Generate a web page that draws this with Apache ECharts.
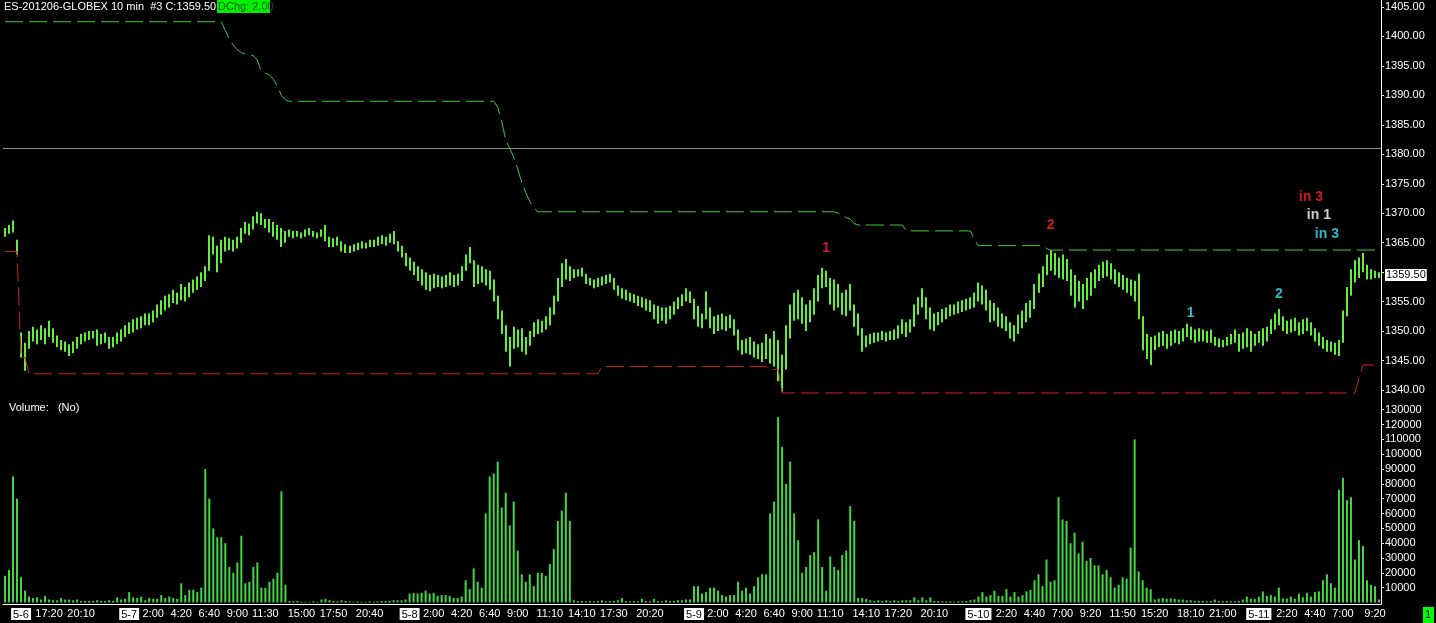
<!DOCTYPE html>
<html><head><meta charset="utf-8">
<script src="https://cdn.jsdelivr.net/npm/echarts@6/dist/echarts.min.js"></script>
<style>html,body{margin:0;padding:0;background:#000;}#c{width:1436px;height:623px;}</style>
</head><body><div id="c"></div>
<script>
// 20-minute bars (each drawn bar summarises two 10-min bars of the reference)
const highs=[1367.5,1368.0,1368.75,1365.5,1349.75,1348.0,1350.0,1350.75,1350.25,1351.0,1350.5,1351.75,1350.5,1349.25,1348.5,1348.25,1347.75,1348.25,1349.0,1349.5,
1349.75,1350.0,1350.0,1350.25,1349.5,1349.75,1349.0,1349.0,1349.75,1350.25,1351.0,1351.5,1352.0,1352.25,1352.5,1353.0,1353.0,1353.5,1354.5,1355.25,
1356.0,1356.25,1357.0,1356.5,1358.0,1357.5,1358.25,1358.75,1359.25,1360.0,1361.0,1366.25,1366.0,1364.5,1365.5,1366.0,1365.75,1365.5,1366.0,1367.5,
1368.5,1368.25,1369.5,1370.25,1370.0,1369.0,1369.0,1368.5,1368.0,1367.5,1367.0,1367.25,1367.0,1367.0,1366.75,1367.25,1367.5,1367.0,1366.75,1367.25,
1368.0,1366.0,1365.75,1366.0,1365.25,1364.75,1364.5,1364.75,1365.0,1365.25,1365.0,1365.5,1365.5,1366.0,1366.25,1366.0,1366.5,1367.0,1365.25,1364.5,
1363.25,1362.5,1361.75,1361.0,1360.5,1360.0,1359.5,1359.75,1359.5,1359.25,1359.5,1360.0,1359.5,1359.75,1361.0,1363.0,1364.25,1362.0,1361.25,1361.0,
1360.5,1360.25,1358.75,1356.0,1353.5,1351.0,1349.0,1350.75,1350.25,1350.5,1349.0,1350.0,1351.5,1352.0,1351.75,1352.5,1354.0,1356.0,1359.0,1361.5,
1362.25,1361.0,1360.5,1360.5,1360.75,1359.75,1359.0,1358.75,1359.0,1359.25,1359.5,1359.75,1359.0,1357.75,1357.25,1357.0,1356.5,1356.25,1356.0,1355.75,
1355.5,1355.25,1354.5,1354.25,1354.0,1354.0,1354.25,1355.0,1355.75,1356.25,1357.25,1356.75,1355.5,1354.25,1353.0,1356.75,1354.0,1352.5,1352.75,1353.0,
1352.5,1352.75,1352.0,1350.25,1348.5,1348.75,1349.0,1348.25,1347.75,1348.0,1349.5,1348.75,1350.0,1348.5,1346.0,1351.0,1354.5,1356.5,1357.0,1355.75,
1354.5,1355.25,1357.25,1359.5,1360.75,1360.25,1359.0,1358.75,1358.0,1356.5,1357.0,1358.0,1354.5,1353.0,1350.5,1349.25,1349.5,1349.75,1349.75,1350.0,
1349.75,1350.0,1350.25,1351.0,1352.0,1351.5,1352.0,1354.5,1355.75,1357.25,1355.75,1354.0,1353.0,1353.25,1353.75,1354.0,1354.5,1354.5,1355.0,1355.25,
1355.5,1355.75,1356.5,1358.25,1357.75,1357.0,1355.25,1354.75,1354.0,1353.0,1352.5,1351.5,1351.0,1352.75,1353.5,1354.75,1355.25,1358.0,1359.75,1361.0,
1363.0,1363.75,1363.25,1362.5,1363.0,1362.25,1360.5,1359.5,1358.5,1358.0,1359.0,1360.0,1360.5,1361.25,1361.75,1362.0,1361.5,1360.5,1360.0,1359.5,
1359.0,1358.75,1358.5,1359.75,1352.5,1349.5,1349.0,1349.25,1349.75,1350.0,1349.5,1350.0,1350.25,1350.0,1350.5,1351.25,1350.75,1350.25,1350.5,1350.25,
1350.0,1350.25,1349.0,1348.75,1348.5,1349.0,1349.5,1350.25,1349.5,1349.75,1350.5,1350.0,1349.5,1350.0,1350.5,1350.75,1352.0,1353.0,1353.75,1352.5,
1351.75,1352.0,1352.25,1351.5,1352.0,1352.25,1351.5,1350.5,1349.75,1349.0,1348.5,1348.25,1348.0,1348.5,1353.5,1357.5,1360.5,1362.0,1362.5,1363.25,
1361.25,1360.5,1360.25,1360.0];
const lows=[1366.0,1366.5,1366.75,1363.0,1345.5,1343.25,1347.0,1348.25,1347.75,1348.5,1347.75,1349.0,1348.0,1347.25,1346.75,1346.5,1345.75,1346.25,1347.0,1347.75,
1348.25,1348.5,1348.75,1347.5,1347.75,1348.0,1347.0,1347.25,1347.75,1348.25,1349.0,1349.5,1349.75,1350.25,1350.5,1351.0,1351.0,1351.5,1352.25,1352.75,
1353.5,1354.0,1354.75,1354.5,1355.25,1355.0,1355.75,1356.5,1357.0,1357.5,1358.5,1360.25,1363.0,1360.0,1361.5,1363.5,1363.75,1363.5,1364.0,1365.0,
1366.5,1366.25,1367.25,1368.25,1368.0,1367.5,1366.75,1366.0,1365.5,1364.25,1365.0,1366.0,1365.75,1366.0,1365.75,1366.0,1366.25,1366.0,1365.75,1366.0,
1365.25,1364.25,1364.25,1364.5,1363.5,1363.25,1363.25,1363.5,1363.75,1364.0,1364.0,1364.25,1364.25,1364.5,1364.75,1364.5,1365.0,1364.75,1363.5,1362.5,
1361.0,1360.25,1359.5,1358.5,1357.75,1357.0,1356.75,1357.25,1357.5,1357.25,1357.5,1357.75,1357.5,1357.75,1358.5,1360.25,1361.5,1357.5,1358.0,1358.25,
1357.75,1357.0,1355.0,1352.0,1349.5,1346.5,1344.0,1347.0,1347.25,1346.5,1346.0,1347.5,1349.0,1349.5,1349.75,1350.25,1351.0,1352.75,1355.0,1357.5,
1358.75,1358.5,1359.0,1359.25,1359.25,1358.0,1357.75,1357.25,1357.5,1357.75,1358.0,1358.25,1357.0,1356.0,1355.5,1355.25,1355.0,1354.75,1354.25,1354.0,
1353.5,1353.25,1352.0,1351.25,1351.75,1351.25,1352.0,1352.75,1353.75,1354.25,1355.0,1354.75,1352.0,1350.75,1350.5,1352.0,1350.5,1349.5,1350.0,1350.25,
1350.0,1350.5,1349.25,1346.75,1346.0,1346.25,1346.0,1345.5,1345.25,1344.75,1345.25,1344.5,1344.0,1341.5,1339.75,1343.5,1348.75,1351.75,1352.0,1351.25,
1350.0,1351.5,1352.75,1355.0,1357.25,1357.5,1354.5,1353.5,1354.0,1352.75,1352.5,1353.5,1350.75,1349.25,1346.5,1347.25,1347.75,1348.0,1348.25,1348.5,
1348.25,1348.5,1348.5,1348.75,1349.5,1349.0,1349.75,1350.75,1352.75,1354.0,1352.0,1350.25,1350.0,1351.0,1351.5,1352.0,1352.5,1352.75,1353.0,1353.25,
1353.5,1353.75,1354.0,1355.0,1354.5,1353.5,1351.5,1351.75,1350.75,1350.5,1350.0,1348.75,1348.25,1349.5,1350.5,1351.5,1352.25,1353.75,1356.5,1357.5,
1359.5,1360.25,1359.5,1359.0,1358.75,1358.5,1356.0,1354.0,1355.0,1353.75,1355.25,1356.0,1357.25,1358.5,1359.0,1359.25,1358.75,1358.0,1357.5,1357.0,
1356.5,1356.0,1355.0,1352.0,1346.75,1345.25,1344.25,1346.75,1347.25,1347.5,1347.0,1347.5,1348.0,1347.75,1348.25,1349.0,1348.5,1348.0,1348.25,1348.25,
1348.0,1348.0,1347.5,1347.25,1347.25,1347.5,1347.75,1348.0,1346.5,1347.0,1347.25,1346.5,1347.5,1348.0,1347.5,1348.25,1349.5,1350.25,1351.0,1350.0,
1349.5,1349.75,1350.0,1349.25,1349.5,1350.0,1349.25,1348.25,1347.5,1347.0,1346.5,1346.5,1346.0,1345.75,1348.0,1352.5,1356.0,1358.25,1359.0,1360.0,
1358.75,1358.75,1359.0,1359.0];
const volumes=[18000,22000,85000,70000,17000,8000,4000,3000,3500,2000,4500,2000,1500,1500,3000,2000,2000,1500,2000,1000,
1000,1000,1000,1500,1000,1000,1500,1000,3500,2000,2500,7000,3500,3000,4000,1500,3000,2500,2500,5000,
3000,4000,3000,2500,13000,5000,8500,8500,7000,10000,90000,70000,50000,44000,44000,40000,24000,20000,27000,45000,
13000,14000,24000,27000,10000,10000,14000,16000,20000,75000,12000,1000,800,1000,500,500,500,800,500,2000,
2500,1500,1000,800,1500,1000,800,500,800,500,500,800,500,800,1000,1000,1000,1500,1500,1500,
2000,6000,6500,6000,6500,8000,6000,6500,4500,5000,5000,4500,3000,3000,4000,15000,9000,23000,14000,10000,
60000,85000,87000,95000,64000,74000,52000,68000,35000,19000,14000,19000,11000,20000,20000,18000,26000,36000,55000,62000,
74000,55000,1500,1000,1000,800,1000,800,1000,1500,800,1000,1000,1500,3000,1000,800,1000,800,2500,
1000,800,2500,1000,800,1500,1000,1000,1500,1500,2000,2000,11000,11000,6000,7000,10000,10000,8000,5000,
4000,5000,5000,14000,8000,10000,6000,11000,17000,19000,19000,60000,68000,125000,105000,80000,95000,60000,42000,20000,
24000,32000,34000,56000,24000,8000,31000,24000,22000,32000,35000,65000,55000,3000,3000,2500,1500,1000,1500,1000,
1500,1000,1500,1000,1500,1500,1500,3500,1500,3500,1500,3500,1000,1000,800,800,800,500,800,800,
1000,1500,2000,4000,7000,4000,5000,8000,4500,4500,9000,4000,7000,4000,5000,7500,8500,15000,19000,11000,
29000,14000,15000,71000,56000,55000,40000,47000,33000,41000,28000,30000,25000,25000,19000,22000,17000,10000,12000,17000,
16000,37000,110000,21000,15000,10000,9000,2000,2500,3000,2500,2700,2500,2000,2000,1500,1500,1000,1000,1000,
800,1000,2000,1000,800,1000,800,800,1000,2000,4000,2500,2300,4000,7500,4500,5000,4000,10000,2700,
2700,4000,2500,6000,3500,6500,4000,7000,7500,15000,19000,13000,10000,76000,84000,69000,71000,29000,42000,38000,
15000,12000,11000,2000];
// stop levels as [bar index, price] break points
const upperStop=[[0,1402.5],[54,1402.5],[55,1401],[56,1399.5],[57,1398.5],[58,1397.75],[59,1397.25],[60,1397],[62,1396.75],[63,1396],[64,1394],[65,1393.75],[66,1393.5],[67,1392.75],[68,1391.5],[69,1390],[70,1389.25],[71,1389],[122,1389],[123,1388],[124,1385.5],[125,1382.5],[126,1381],[127,1379.5],[128,1377.5],[129,1375.25],[130,1373.5],[131,1372],[132,1371],[133,1370.25],[207,1370.25],[208,1370],[209,1369.5],[210,1369.25],[211,1369],[212,1368.25],[213,1368],[224,1368],[225,1367],[241,1367],[242,1365.5],[243,1364.5],[259,1364.5],[260,1364],[261,1363.75],[343,1363.75]];
const lowerStop=[[0,1363.5],[3,1363.5],[4,1345.5],[5,1345.5],[6,1342.75],[148,1342.75],[149,1344],[190,1344],[191,1343.5],[193,1343.5],[194,1339.5],[337,1339.5],[338,1342],[339,1344.25],[343,1344.25]];
const refLevel=1381;
const lastClose=1359.5;
const priceTicks=[1340,1345,1350,1355,1360,1365,1370,1375,1380,1385,1390,1395,1400,1405];
const volumeTicks=[10000,20000,30000,40000,50000,60000,70000,80000,90000,100000,110000,120000,130000];
const timeLabels=[[4,'5-6',1],[11,'17:20'],[19,'20:10'],[31,'5-7',1],[37,'2:00'],[44,'4:20'],[51,'6:40'],[58,'9:00'],[65,'11:30'],[74,'15:00'],[82,'17:50'],[91,'20:40'],
[101,'5-8',1],[107,'2:00'],[114,'4:20'],[121,'6:40'],[128,'9:00'],[136,'11:10'],[144,'14:10'],[152,'17:30'],[161,'20:20'],
[172,'5-9',1],[178,'2:00'],[185,'4:20'],[192,'6:40'],[199,'9:00'],[206,'11:10'],[215,'14:10'],[223,'17:20'],[232,'20:10'],
[243,'5-10',1],[250,'2:20'],[257,'4:40'],[264,'7:00'],[271,'9:20'],[279,'11:50'],[287,'15:20'],[296,'18:10'],[304,'21:00'],
[313,'5-11',1],[320,'2:20'],[327,'4:40'],[334,'7:00'],[342,'9:20']];
const annotations=[
 {text:'1',idx:205,price:1364.0,color:'#ff2424'},
 {text:'2',idx:261,price:1367.9,color:'#ff2424'},
 {text:'1',idx:296,price:1353.1,color:'#3fe2f2'},
 {text:'2',idx:318,price:1356.2,color:'#3fe2f2'},
 {text:'in 3',idx:326,price:1372.8,color:'#ff2424'},
 {text:'in 1',idx:328,price:1369.75,color:'#ffffff'},
 {text:'in 3',idx:330,price:1366.5,color:'#3fe2f2'}
];

const FONT='"Liberation Sans", Arial, sans-serif';
const PRICE_COLOR='#62ee3c';
const VOL_COLOR='#42d842';
const cats=highs.map((_,i)=>String(i));
const labelMap={};
timeLabels.forEach(t=>{labelMap[t[0]]={t:t[1],d:!!t[2]};});
// the last-price box on the axis hides the tick label it covers
const priceLabelValues=priceTicks.filter(v=>Math.abs(v-lastClose)>2);

const chart=echarts.init(document.getElementById('c'),null,{renderer:'canvas',width:1436,height:623});
const option={
 backgroundColor:'#000',
 animation:false,
 grid:[{left:3,right:55,top:0,height:400},{left:3,right:55,top:400,height:204}],
 xAxis:[
  {type:'category',gridIndex:0,data:cats,show:false},
  {type:'category',gridIndex:1,data:cats,
   axisLine:{show:true,onZero:false,lineStyle:{color:'#ffffff',width:1}},
   axisTick:{show:false},
   axisLabel:{interval:0,margin:4,color:'#ffffff',fontSize:11,fontFamily:FONT,
    formatter:function(v,i){const l=labelMap[i];if(!l)return '';return l.d?'{d|'+l.t+'}':l.t;},
    rich:{d:{backgroundColor:'#ffffff',color:'#000000',padding:[1,2,0,2],fontSize:11,fontFamily:FONT}}}}
 ],
 yAxis:[
  {type:'value',gridIndex:0,position:'right',min:1338.303,max:1406.188,scale:true,
   splitLine:{show:false},
   axisLine:{show:true,lineStyle:{color:'#ffffff'}},
   axisTick:{show:true,length:3,customValues:priceTicks,lineStyle:{color:'#ffffff'}},
   axisLabel:{customValues:priceLabelValues,formatter:v=>Number(v).toFixed(2),color:'#ffffff',fontSize:11,fontFamily:FONT,margin:4}},
  {type:'value',gridIndex:1,position:'right',min:-1011,max:136547,
   splitLine:{show:false},
   axisLine:{show:true,lineStyle:{color:'#ffffff'}},
   axisTick:{show:true,length:3,customValues:volumeTicks,lineStyle:{color:'#ffffff'}},
   axisLabel:{customValues:volumeTicks,formatter:v=>String(Math.round(v)),color:'#ffffff',fontSize:11,fontFamily:FONT,margin:4}}
 ],
 series:[
  {type:'line',xAxisIndex:0,yAxisIndex:0,data:upperStop,symbol:'none',clip:false,silent:true,
   lineStyle:{color:'#3ccc3c',width:1,type:[18,6]},
   markLine:{silent:true,symbol:'none',label:{show:false},lineStyle:{color:'#8a8f8a',type:'solid',width:1},data:[{yAxis:refLevel}]}},
  {type:'line',xAxisIndex:0,yAxisIndex:0,data:lowerStop,symbol:'none',clip:false,silent:true,
   lineStyle:{color:'#cc2020',width:1,type:[18,6]}},
  {type:'custom',xAxisIndex:0,yAxisIndex:0,clip:false,silent:true,
   data:highs.map((h,i)=>[i,lows[i],h]),
   encode:{x:0,y:[1,2]},
   renderItem:function(params,api){
     const lo=api.coord([api.value(0),api.value(1)]);
     const hi=api.coord([api.value(0),api.value(2)]);
     return {type:'rect',shape:{x:Math.round(lo[0])-1,y:hi[1],width:2,height:Math.max(1,lo[1]-hi[1])},style:{fill:PRICE_COLOR}};
   }},
  {type:'scatter',xAxisIndex:0,yAxisIndex:0,symbolSize:0,silent:true,clip:false,
   data:annotations.map(a=>({value:[a.idx,a.price],name:a.text,label:{color:a.color}})),
   label:{show:true,position:'inside',formatter:'{b}',fontSize:14,fontWeight:'bold',fontFamily:FONT,textBorderWidth:0}},
  {type:'bar',xAxisIndex:1,yAxisIndex:1,data:volumes,barWidth:2,silent:true,itemStyle:{color:VOL_COLOR}}
 ]
};
chart.setOption(option);
const yLast=chart.convertToPixel({yAxisIndex:0},lastClose);
chart.setOption({graphic:[
 {type:'text',left:4,top:1,style:{text:'ES-201206-GLOBEX 10 min  #3 C:1359.50',fill:'#ffffff',font:'11px '+FONT}},
 {type:'rect',left:217,top:0,shape:{width:53,height:13},style:{fill:'#00f000'}},
 {type:'text',left:218,top:1,style:{text:'DChg: 2.00',fill:'#0d5a0d',font:'11px '+FONT}},
 {type:'text',left:9,top:402,style:{text:'Volume:   (No)',fill:'#ffffff',font:'11px '+FONT}},
 {type:'rect',left:1423,top:607,shape:{width:11,height:16},style:{fill:'#00ff00'}},
 {type:'text',left:1425,top:609,style:{text:'1',fill:'#000000',font:'11px '+FONT}},
 {type:'text',x:1385,y:yLast,style:{text:lastClose.toFixed(2),fill:'#000000',backgroundColor:'#ffffff',padding:[1,1,0,1],font:'11px '+FONT,verticalAlign:'middle'}}
]});
</script></body></html>
